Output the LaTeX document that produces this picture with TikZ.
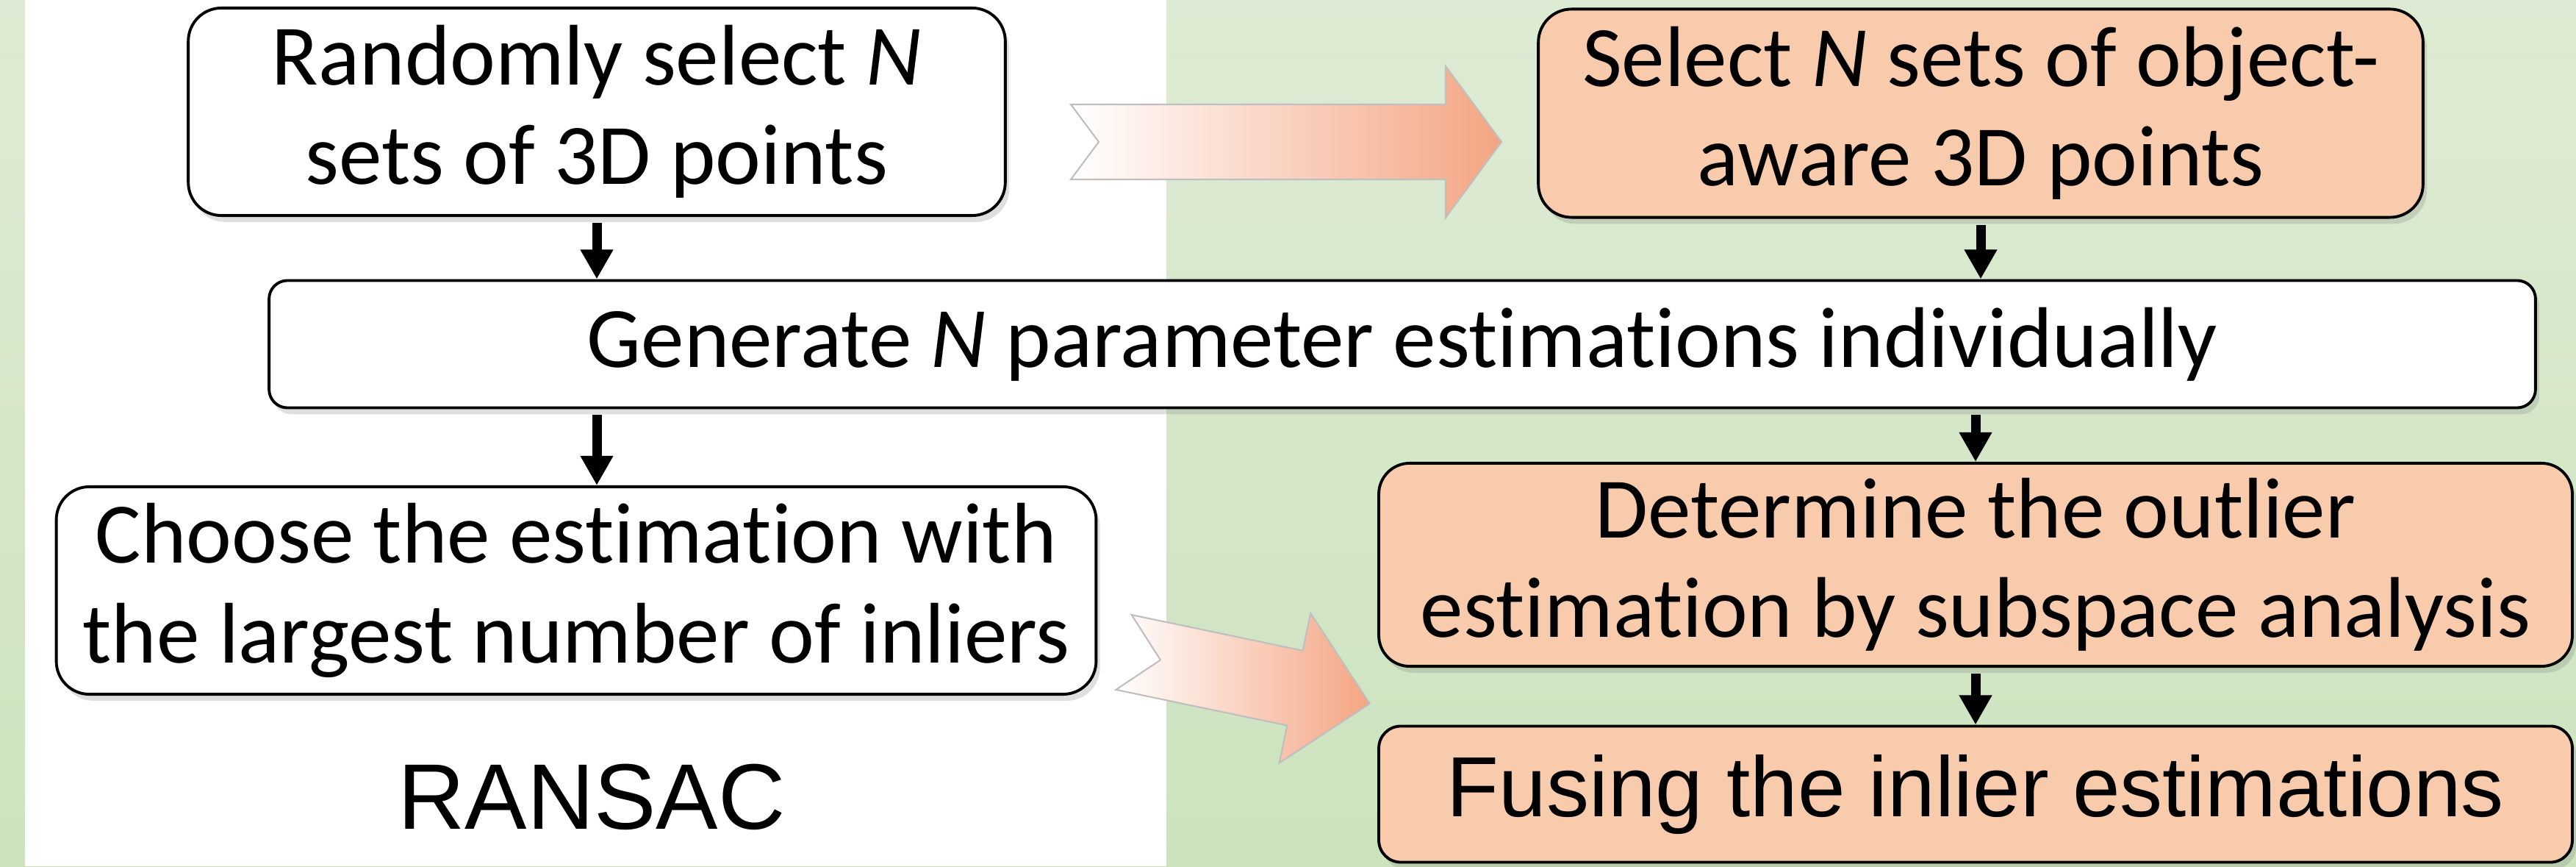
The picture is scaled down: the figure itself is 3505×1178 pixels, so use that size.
\documentclass[tikz,border=0pt]{standalone}
\usepackage{fontspec}
\setmainfont[Ligatures=NoCommon]{Carlito}
\newfontfamily\arialfont{Liberation Sans}
\usepackage{tikz}
\usetikzlibrary{positioning,arrows.meta,shadows}

\definecolor{panelgreenA}{HTML}{DEEBD4}
\definecolor{panelgreenB}{HTML}{CCE3BE}
\definecolor{salmon}{HTML}{F8CBAD}
\definecolor{arroworange}{HTML}{F4A582}
\definecolor{arrowgray}{HTML}{BFBFBF}

\begin{document}
\begin{tikzpicture}[x=0.01cm,y=0.01cm,
                    flow/.style={-{Triangle[width=0.42cm,length=0.4cm]},
                                 line width=0.13cm,shorten <=0.08cm}]
  \tikzstyle{every node}=[font=\fontsize{33.3}{38.5}\selectfont]
  \tikzstyle{stage}=[draw=black,line width=1.1pt,align=center,inner sep=0pt,
                     drop shadow={shadow xshift=1.5pt,shadow yshift=-2.5pt,opacity=0.25}]
  \tikzstyle{plain}=[stage,fill=white]
  \tikzstyle{ours}=[stage,fill=salmon]
  \tikzstyle{fat}=[draw=arrowgray,line width=0.6pt,left color=white,right color=arroworange]

  % background panels
  \useasboundingbox (0,0) rectangle (3505,1178);
  \shade[top color=panelgreenA,bottom color=panelgreenB] (0,0) rectangle (3505,1178);
  \fill[white] (34,0) rectangle (1587,1178);

  % RANSAC side
  \node[plain,rounded corners=0.45cm,minimum width=11.11cm,minimum height=2.82cm]
       (A) at (812,1026) {Randomly select \textit{N}\\sets of 3D points};
  \node[plain,rounded corners=0.25cm,minimum width=30.82cm,minimum height=1.73cm]
       (C) at (1908,710) {Generate \textit{N} parameter estimations individually};
  \node[plain,rounded corners=0.45cm,minimum width=14.14cm,minimum height=2.82cm]
       (D) at (784,375) {Choose the estimation with\\the largest number of inliers};
  \node[font=\arialfont\fontsize{36}{40}\selectfont] (R) at (805,94) {RANSAC};

  % our side
  \node[ours,rounded corners=0.45cm,minimum width=12.03cm,minimum height=2.83cm]
       (B) at (2695,1024) {Select \textit{N} sets of object-\\aware 3D points};
  \node[ours,rounded corners=0.42cm,minimum width=16.23cm,minimum height=2.76cm]
       (E) at (2688,410) {Determine the outlier\\estimation by subspace analysis};
  \node[ours,rounded corners=0.3cm,minimum width=16.23cm,minimum height=1.85cm,
        font=\arialfont\fontsize{33}{38}\selectfont]
       (F) at (2688,98) {Fusing the inlier estimations};

  \draw[flow] (A.south) -- (A.south |- C.north);
  \draw[flow] (B.south) -- (B.south |- C.north);
  \draw[flow] (C.south -| A.south) -- (A.south |- D.north);
  \draw[flow] (C.south -| E.north) -- (E.north);
  \draw[flow] (E.south) -- (F.north);

  % block arrows
  \draw[fat] (1457,1036) -- (1967,1036) -- (1967,1088) -- (2043,985)
             -- (1967,882) -- (1967,934) -- (1457,934) -- (1495,985) -- cycle;
  \begin{scope}[shift={(1529,291)},rotate=-11.8]
    \draw[fat] (0,52) -- (238,52) -- (238,104) -- (342,0) -- (238,-104)
               -- (238,-52) -- (0,-52) -- (51,0) -- cycle;
  \end{scope}
\end{tikzpicture}
\end{document}
